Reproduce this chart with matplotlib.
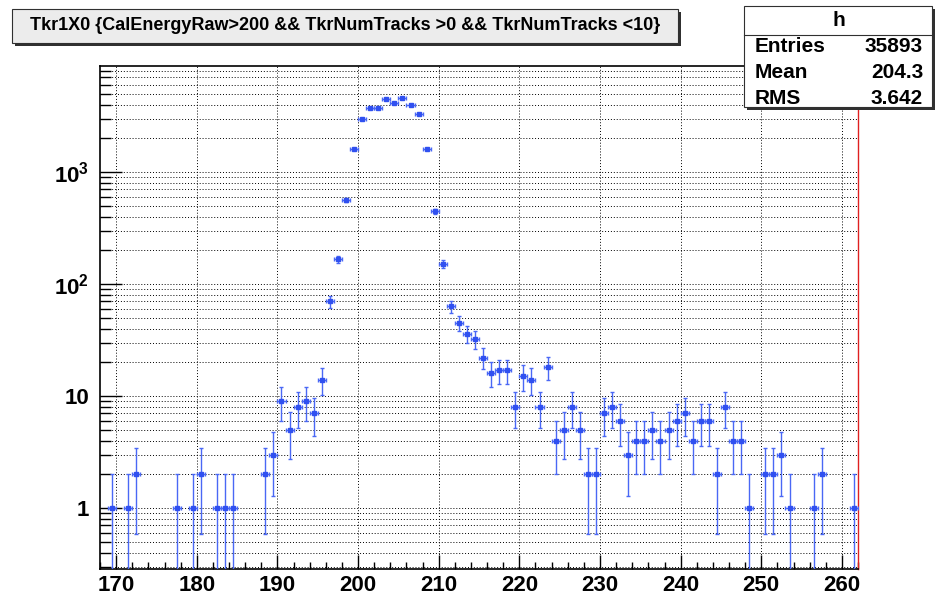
import numpy as np
import matplotlib
matplotlib.use("Agg")
import matplotlib.pyplot as plt
from matplotlib.patches import Rectangle
from matplotlib.ticker import FixedLocator, LogLocator, NullFormatter, MultipleLocator

# histogram: 94 bins of width 1 from 168 to 262
x_lo, x_hi = 168, 262
counts = [
    0, 1, 0, 1, 2, 0, 0, 0, 0, 1,          # 168.5 - 177.5
    0, 1, 2, 0, 1, 1, 1, 0, 0, 0,          # 178.5 - 187.5
    2, 3, 9, 5, 8, 9, 7, 14, 70, 166,      # 188.5 - 197.5
    559, 1600, 2960, 3690, 3690, 4520, 4130, 4610, 3990, 3320,  # 198.5 - 207.5
    1600, 446, 152, 63, 45, 36, 32, 22, 16, 17,                 # 208.5 - 217.5
    17, 8, 15, 14, 8, 18, 4, 5, 8, 5,      # 218.5 - 227.5
    2, 2, 7, 8, 6, 3, 4, 4, 5, 4,          # 228.5 - 237.5
    5, 6, 7, 4, 6, 6, 2, 8, 4, 4,          # 238.5 - 247.5
    1, 0, 2, 2, 3, 1, 0, 0, 1, 2,          # 248.5 - 257.5
    0, 0, 0, 1,                            # 258.5 - 261.5
]
title = "Tkr1X0 {CalEnergyRaw>200 && TkrNumTracks >0 && TkrNumTracks <10}"
stats_name = "h"
stats_rows = [("Entries", "35893"), ("Mean", "204.3"), ("RMS", "3.642")]
y_major = [1, 10, 100, 1000]
y_labels = ["1", "10", r"$\mathbf{10^{2}}$", r"$\mathbf{10^{3}}$"]

plt.rcParams['font.family'] = ['Liberation Sans', 'DejaVu Sans']
plt.rcParams['mathtext.fontset'] = 'custom'
plt.rcParams['mathtext.rm'] = 'Liberation Sans'
plt.rcParams['mathtext.bf'] = 'Liberation Sans:bold'

counts = np.array(counts, dtype=float)
centers = np.arange(x_lo, x_hi) + 0.5
keep = counts > 0
xc = centers[keep]
yc = counts[keep]
err = np.sqrt(yc)
lo = yc - np.maximum(yc - err, 1e-3)
hi = err

fig = plt.figure(figsize=(9.35, 5.95), dpi=100)
ax = fig.add_axes([0.1070, 0.0437, 0.8107, 0.8454])

blue = '#3050f0'
ax.errorbar(xc, yc, xerr=0.5, yerr=[lo, hi], fmt='s', ms=2.6, color=blue,
            ecolor='#4a68f5', elinewidth=1.0, capsize=1.6, capthick=1.0,
            mec=blue, zorder=3)

ax.set_yscale('log')
ax.set_xlim(x_lo, x_hi)
ax.set_ylim(0.285, 8840)

ax.yaxis.set_major_locator(FixedLocator(y_major))
ax.set_yticklabels(y_labels)
ax.yaxis.set_minor_locator(LogLocator(base=10, subs=np.arange(2, 10), numticks=20))
ax.yaxis.set_minor_formatter(NullFormatter())
ax.xaxis.set_major_locator(MultipleLocator(10))
ax.xaxis.set_minor_locator(MultipleLocator(2))

ax.tick_params(axis='both', which='both', direction='in', top=False, right=False)
ax.tick_params(axis='y', which='major', length=16, width=1.0, pad=8)
ax.tick_params(axis='y', which='minor', length=8, width=1.0)
ax.tick_params(axis='x', which='major', length=10, width=1.0, pad=4)
ax.tick_params(axis='x', which='minor', length=5, width=1.0)
for lab in ax.get_xticklabels() + ax.get_yticklabels():
    lab.set_fontsize(16)
    lab.set_fontweight('bold')

ax.grid(True, which='major', axis='x', color='k', linestyle=(0, (1, 2)), lw=0.7)
ax.grid(True, which='both', axis='y', color='k', linestyle=(0, (1, 2)), lw=0.7)
ax.set_axisbelow(True)

for s in ['left', 'bottom', 'top']:
    ax.spines[s].set_linewidth(1.2)
    ax.spines[s].set_color('k')
ax.spines['right'].set_color('#e02020')
ax.spines['right'].set_linewidth(1.0)

# title box with shadow
W, H = 935.0, 595.0
def px_rect(x0, y0, x1, y1, **kw):
    return Rectangle((x0 / W, 1 - y1 / H), (x1 - x0) / W, (y1 - y0) / H,
                     transform=fig.transFigure, **kw)

fig.patches.append(px_rect(15, 12, 681, 46, facecolor='#303030', edgecolor='none'))
fig.patches.append(px_rect(12, 9, 678, 43, facecolor='#ececec', edgecolor='#303030', lw=0.8))
fig.text(345 / W, 1 - 26 / H, title, ha='center', va='center', fontsize=13,
         family=['Liberation Sans Narrow', 'Liberation Sans'], fontweight='bold')

# stats box
fig.patches.append(px_rect(747, 9, 935, 110, facecolor='#303030', edgecolor='none'))
fig.patches.append(px_rect(744, 6, 932, 107, facecolor='white', edgecolor='#303030', lw=0.8))
fig.add_artist(plt.Line2D([744 / W, 932 / W], [1 - 35 / H, 1 - 35 / H],
                          transform=fig.transFigure, color='#303030', lw=0.8))
fig.text(839 / W, 1 - 21 / H, stats_name, ha='center', va='center', fontsize=15,
         fontweight='bold')
for i, (k, v) in enumerate(stats_rows):
    yb = 1 - (47 + i * 25.5) / H
    fig.text(755 / W, yb, k, ha='left', va='center', fontsize=15, fontweight='bold')
    fig.text(923 / W, yb, v, ha='right', va='center', fontsize=15, fontweight='bold')

fig.savefig('out.png', dpi=100, facecolor='white')
